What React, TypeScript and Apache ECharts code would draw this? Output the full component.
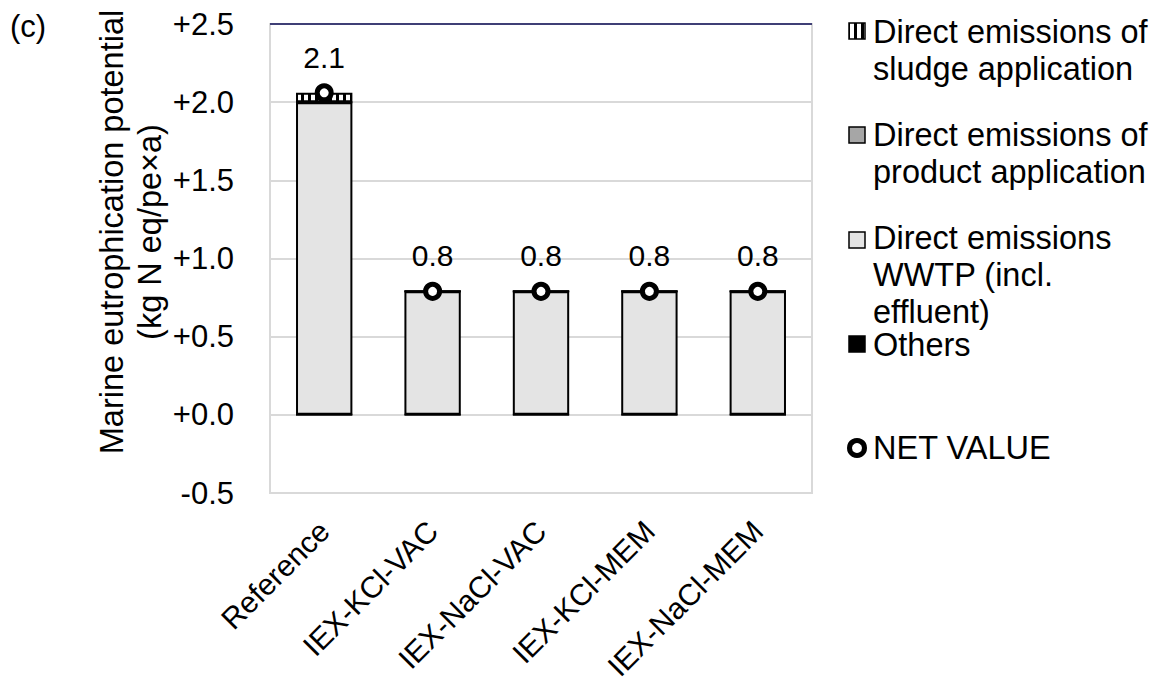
import React, { useEffect, useRef } from "react";
import * as echarts from "echarts";

// Scenario categories
const categories = ["Reference", "IEX-KCl-VAC", "IEX-NaCl-VAC", "IEX-KCl-MEM", "IEX-NaCl-MEM"];

// Stacked contributions (kg N eq/pe×a), bottom to top
const others = [0, 0, 0, 0, 0];
const wwtp = [2.0, 0.79, 0.79, 0.79, 0.79];
const productApp = [0, 0, 0, 0, 0];
const sludgeApp = [0.06, 0, 0, 0, 0];

// Net value per scenario
const netValue = [2.06, 0.79, 0.79, 0.79, 0.79];

// Y axis ticks
const yMin = -0.5;
const yMax = 2.5;
const yStep = 0.5;

const FONT = "'Liberation Sans', Arial, sans-serif";
const FS = 31;
const FS_TITLE = 32.5;

function makeStripes(): HTMLCanvasElement {
  const c = document.createElement("canvas");
  c.width = 7;
  c.height = 7;
  const ctx = c.getContext("2d")!;
  ctx.fillStyle = "#ffffff";
  ctx.fillRect(0, 0, 7, 7);
  ctx.fillStyle = "#000000";
  ctx.fillRect(0, 0, 3, 7);
  return c;
}

function fmtTick(v: number): string {
  if (v >= 0) return "+" + v.toFixed(1);
  return v.toFixed(1);
}

export default function App() {
  const ref = useRef<HTMLDivElement>(null);

  useEffect(() => {
    if (!ref.current) return;
    const chart = echarts.init(ref.current, null, { renderer: "svg" });
    const stripes = { image: makeStripes(), repeat: "repeat" } as any;

    const barBase = {
      type: "bar",
      stack: "total",
      barWidth: "52%",
      itemStyle: { borderColor: "#000", borderWidth: 2 },
    };

    const nGrid = Math.round((yMax - yMin) / yStep) + 1;
    const gridColors = new Array(nGrid).fill("#d9d9d9");
    gridColors[nGrid - 1] = "#3f3f76";

    const legendText = (y: number, text: string) => ({
      type: "text",
      x: 873,
      y,
      style: {
        text,
        fill: "#000",
        font: `${FS_TITLE}px ${FONT}`,
        lineHeight: 37,
        textAlign: "left",
        textVerticalAlign: "top",
      },
    });
    const legendBox = (y: number, fill: any) => ({
      type: "rect",
      shape: { x: 849, y: y - 8, width: 16, height: 16 },
      style: { fill, stroke: "#000", lineWidth: 1.5 },
    });

    chart.setOption({
      animation: false,
      textStyle: { fontFamily: FONT },
      grid: {
        left: 270,
        right: 340,
        top: 24,
        bottom: 193,
        outerBoundsMode: "none",
        containLabel: false,
        show: true,
        borderColor: "#d9d9d9",
        borderWidth: 2,
        backgroundColor: "transparent",
      },
      xAxis: {
        type: "category",
        data: categories,
        axisLine: { show: false },
        axisTick: { show: false },
        axisLabel: {
          interval: 0,
          rotate: 45,
          margin: 33,
          color: "#000",
          fontSize: 30,
          fontFamily: FONT,
        },
      },
      yAxis: {
        type: "value",
        min: yMin,
        max: yMax,
        interval: yStep,
        axisLine: { show: false },
        axisTick: { show: false },
        axisLabel: {
          formatter: fmtTick,
          color: "#000",
          fontSize: FS,
          fontFamily: FONT,
          margin: 36,
        },
        splitLine: { show: true, showMinLine: true, showMaxLine: true, lineStyle: { color: gridColors, width: 2 } },
      },
      series: [
        { ...barBase, name: "Others", data: others, itemStyle: { ...barBase.itemStyle, color: "#000" } },
        { ...barBase, name: "Direct emissions WWTP (incl. effluent)", data: wwtp, itemStyle: { ...barBase.itemStyle, color: "#e4e4e4" } },
        { ...barBase, name: "Direct emissions of product application", data: productApp, itemStyle: { ...barBase.itemStyle, color: "#a6a6a6" } },
        { ...barBase, name: "Direct emissions of sludge application", data: sludgeApp, itemStyle: { ...barBase.itemStyle, color: stripes } },
        {
          type: "scatter",
          name: "NET VALUE",
          data: netValue,
          symbol: "circle",
          symbolSize: 14,
          z: 5,
          itemStyle: { color: "#fff", borderColor: "#000", borderWidth: 5, opacity: 1 },
          label: {
            show: true,
            position: "top",
            distance: 11,
            formatter: (p: any) => p.value.toFixed(1),
            color: "#000",
            fontSize: 30,
            fontFamily: FONT,
          },
        },
      ],
      graphic: [
        {
          type: "text",
          x: 10,
          y: 26,
          style: { text: "(c)", fill: "#000", font: `${FS}px ${FONT}`, textAlign: "left", textVerticalAlign: "middle" },
        },
        {
          type: "text",
          x: 112,
          y: 232,
          rotation: Math.PI / 2,
          style: { text: "Marine eutrophication potential", fill: "#000", font: `${FS_TITLE}px ${FONT}`, textAlign: "center", textVerticalAlign: "middle" },
        },
        {
          type: "text",
          x: 150,
          y: 232,
          rotation: Math.PI / 2,
          style: { text: "(kg N eq/pe×a)", fill: "#000", font: `${FS_TITLE}px ${FONT}`, textAlign: "center", textVerticalAlign: "middle" },
        },
        legendBox(31, stripes),
        legendText(13.5, "Direct emissions of\nsludge application"),
        legendBox(135, "#a6a6a6"),
        legendText(116.5, "Direct emissions of\nproduct application"),
        legendBox(240, "#e4e4e4"),
        legendText(219.5, "Direct emissions\nWWTP (incl.\neffluent)"),
        legendBox(344, "#000"),
        legendText(326.5, "Others"),
        {
          type: "circle",
          shape: { cx: 857, cy: 448, r: 7.5 },
          style: { fill: "#fff", stroke: "#000", lineWidth: 5 },
        },
        legendText(429.5, "NET VALUE"),
      ],
    });

    return () => chart.dispose();
  }, []);

  return (
    <div
      ref={ref}
      style={{ position: "fixed", left: 0, top: 0, width: 1152, height: 686, background: "#fff" }}
    />
  );
}
